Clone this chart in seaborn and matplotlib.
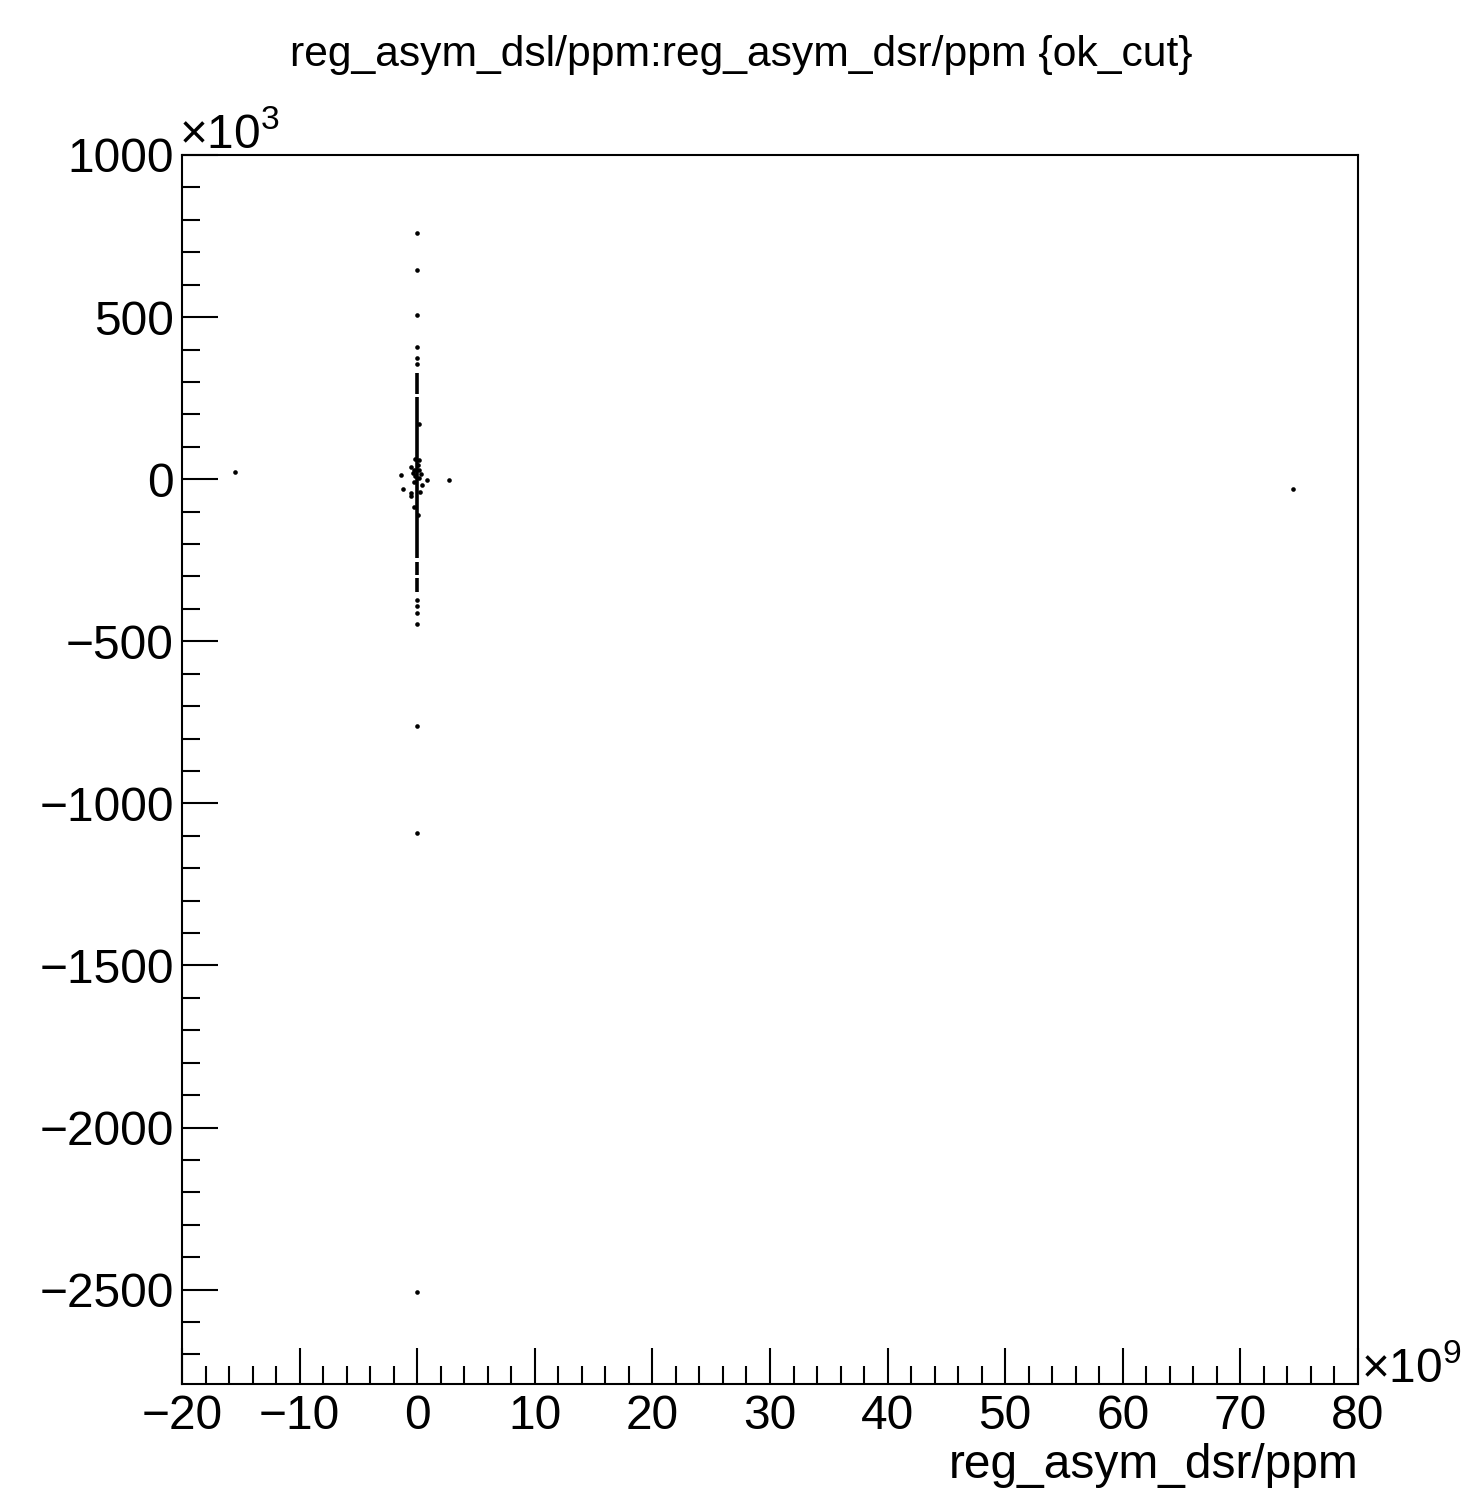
import numpy as np
import pandas as pd
import seaborn as sns
import matplotlib.pyplot as plt
from matplotlib.ticker import MultipleLocator

# x values in units of 1e9 ppm, y values in units of 1e3 ppm
pts_x = [-15.5, 74.5, 2.68, 0.86, -1.40, -1.18, -0.50, 0.43, -0.50, -0.50, 0.24,
         -0.25, 0.09, 0.15, -0.19, 0.15, -0.27, 0.15, -0.19, 0.15, -0.27, 0.07,
         -0.33, 0.30, 0.0, 0.0, 0.0, 0.0, 0.0, 0.0, 0.0, 0.0, 0.0, 0.0, 0.0, 0.0, 0.0]
pts_y = [21, -29, -4, -4, 12, -29, 38, -19, -44, -52, -39,
         -85, -111, 170, 62, 59, 28, 28, 9, 3, -9, 43,
         20, 15, 760, 644, 505, 408, 375, 356, -373, -391, -414, -447, -760, -1090, -2508]

# dense runs of points along x = 0
run_x = [0.0, 0.0, 0.0, 0.0]
run_lo = [262, -243, -296, -347]
run_hi = [329, 252, -255, -304]

title = "reg_asym_dsl/ppm:reg_asym_dsr/ppm {ok_cut}"
xlabel = "reg_asym_dsr/ppm"

sns.set_theme(style="white")
plt.rcParams['font.family'] = ['Liberation Sans', 'DejaVu Sans']
plt.rcParams['mathtext.fontset'] = 'custom'
plt.rcParams['mathtext.rm'] = 'Liberation Sans'
plt.rcParams['text.color'] = 'black'
plt.rcParams['xtick.color'] = 'black'
plt.rcParams['ytick.color'] = 'black'
plt.rcParams['xtick.labelcolor'] = 'black'
plt.rcParams['ytick.labelcolor'] = 'black'

df = pd.DataFrame({"x": pts_x, "y": pts_y})

fig = plt.figure(figsize=(14.73, 15.05), dpi=100)
ax = fig.add_axes([182 / 1473, 1 - 1384 / 1505, (1358 - 182) / 1473, (1384 - 155) / 1505])

sns.scatterplot(data=df, x="x", y="y", ax=ax, color="black", s=11, marker="o",
                linewidth=0, legend=False)
ax.vlines(run_x, run_lo, run_hi, color="black", linewidth=2.6)

ax.set_xlim(-20, 80)
ax.set_ylim(-2791, 1000)
ax.xaxis.set_major_locator(MultipleLocator(10))
ax.xaxis.set_minor_locator(MultipleLocator(2))
ax.yaxis.set_major_locator(MultipleLocator(500))
ax.yaxis.set_minor_locator(MultipleLocator(100))

for s in ax.spines.values():
    s.set_linewidth(1.5)
    s.set_color("black")
ax.tick_params(which="both", direction="in", bottom=True, left=True, top=False,
               right=False, width=1.5, color="black", labelsize=34.5,
               labelcolor="black")
ax.tick_params(which="major", length=26)
ax.tick_params(which="minor", length=13)
ax.tick_params(axis="x", pad=7)
ax.tick_params(axis="y", pad=6)
ax.set_xlabel("")
ax.set_ylabel("")

fig.text(741 / 1473, 1 - 66 / 1505, title, ha="center", va="baseline", fontsize=30.7)
fig.text(1358 / 1473, 1 - 1478 / 1505, xlabel, ha="right", va="baseline", fontsize=34.5)
fig.text(179 / 1473, 1 - 148 / 1505, r"$\times10^{3}$", ha="left", va="baseline", fontsize=34.5)
fig.text(1361 / 1473, 1 - 1382 / 1505, r"$\times10^{9}$", ha="left", va="baseline", fontsize=34.5)

fig.savefig("out.png", dpi=100, facecolor="white")
